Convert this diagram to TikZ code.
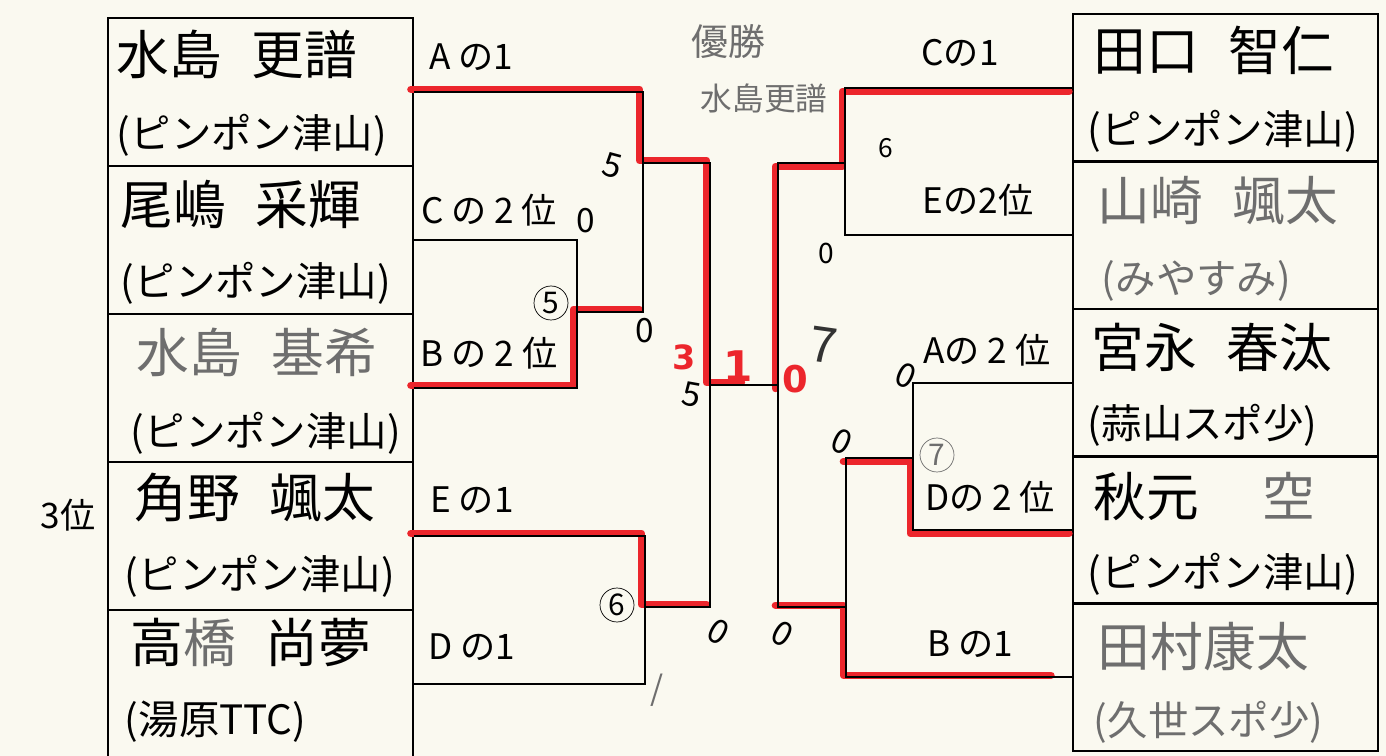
\documentclass[tikz,border=0pt]{standalone}
\usepackage{fontspec}
\setmainfont{Noto Sans CJK JP}
\newfontfamily\scorefont{DejaVu Sans}
\usepackage{xcolor}
\usepackage{tikz}
\usetikzlibrary{positioning,calc}
\definecolor{paper}{RGB}{250,249,240}
\definecolor{marker}{RGB}{236,38,44}
\definecolor{pencil}{RGB}{110,110,110}
\newcommand{\namegap}{\hspace{0.55em}}
\tikzset{
    entrant/.style={rectangle, draw, line width=1.6pt, minimum width=6.1cm, minimum height=2.96cm, inner sep=0},
    pname/.style={anchor=west, inner sep=0, font=\fontsize{30}{30}\selectfont},
    pclub/.style={anchor=west, inner sep=0, font=\fontsize{23}{23}\selectfont},
    slot/.style={inner sep=0, font=\fontsize{20}{20}\selectfont},
    bline/.style={line width=1.6pt},
    win/.style={draw=marker, line width=4.2pt, line cap=round, line join=round},
    lwin/.style={win, transform canvas={xshift=-2pt, yshift=1.5pt}},
    rwin/.style={win, transform canvas={xshift=-1.5pt, yshift=-2pt}},
    note/.style={inner sep=0, font=\fontsize{19}{19}\selectfont},
    ring/.style={circle, draw, thin, minimum size=0.68cm, inner sep=0, font=\fontsize{17}{17}\selectfont},
    redscore/.style={inner sep=0, text=marker, font=\scorefont\bfseries\fontsize{19}{19}\selectfont},
}

\begin{document}
\begin{tikzpicture}[x=0.02cm, y=-0.02cm]
    \useasboundingbox (0,0) rectangle (1386,756);
    \fill[paper] (0,0) rectangle (1386,756);

    \node[entrant] (L1) at (260.5,92) {};
    \node[entrant] (L2) at (260.5,240) {};
    \node[entrant] (L3) at (260.5,388) {};
    \node[entrant] (L4) at (260.5,536) {};
    \node[entrant] (L5) at (260.5,684) {};
    \node[entrant] (R1) at (1225.5,88) {};
    \node[entrant] (R2) at (1225.5,235) {};
    \node[entrant] (R3) at (1225.5,383) {};
    \node[entrant] (R4) at (1225.5,530) {};
    \node[entrant] (R5) at (1225.5,677) {};

    \node[pname] (L1n) at ($(L1.west)+(10,-38)$) {水島\namegap 更譜};
    \node[pclub] (L1c) at ($(L1.west)+(10,43)$) {(ピンポン津山)};
    \node[pname] (L2n) at ($(L2.west)+(14,-36)$) {尾嶋\namegap 采輝};
    \node[pclub] (L2c) at ($(L2.west)+(14,43)$) {(ピンポン津山)};
    \node[pname, text=pencil] (L3n) at ($(L3.west)+(30,-36)$) {水島\namegap 基希};
    \node[pclub] (L3c) at ($(L3.west)+(24,45)$) {(ピンポン津山)};
    \node[pname] (L4n) at ($(L4.west)+(28,-38)$) {角野\namegap 颯太};
    \node[pclub] (L4c) at ($(L4.west)+(18,40)$) {(ピンポン津山)};
    \node[pname] (L5n) at ($(L5.west)+(24,-42)$) {高\textcolor{pencil}{橋}\namegap 尚夢};
    \node[pclub] (L5c) at ($(L5.west)+(18,38)$) {(湯原TTC)};

    \node[pname] (R1n) at ($(R1.west)+(22,-38)$) {田口\namegap 智仁};
    \node[pclub] (R1c) at ($(R1.west)+(16,43)$) {(ピンポン津山)};
    \node[pname, text=pencil] (R2n) at ($(R2.west)+(26,-34)$) {山崎\namegap 颯太};
    \node[pclub, text=pencil] (R2c) at ($(R2.west)+(30,46)$) {(みやすみ)};
    \node[pname] (R3n) at ($(R3.west)+(20,-36)$) {宮永\namegap 春汰};
    \node[pclub] (R3c) at ($(R3.west)+(16,42)$) {(蒜山スポ少)};
    \node[pname] (R4n) at ($(R4.west)+(22,-34)$) {秋元\hspace{1.2em}\textcolor{pencil}{空}};
    \node[pclub] (R4c) at ($(R4.west)+(16,44)$) {(ピンポン津山)};
    \node[pname, text=pencil] (R5n) at ($(R5.west)+(26,-30)$) {田村康太};
    \node[pclub, text=pencil] (R5c) at ($(R5.west)+(22,45)$) {(久世スポ少)};

    \coordinate (lq) at (577,312);
    \coordinate (ls) at (643,163);
    \coordinate (lt) at (645,607);
    \coordinate (lf) at (710,385);
    \coordinate (rf) at (778,385);
    \coordinate (rs) at (845,163);
    \coordinate (rq) at (913,458);
    \coordinate (rt) at (846,607);

    \draw[lwin] (L1.east) -| (ls) -| (lf) -- ++(35,0);
    \draw[lwin] (L3.east) -| (lq) -- (lq -| ls);
    \draw[lwin] (L4.east) -| (lt) -- (lt -| lf);
    \draw[rwin] (R1.west) -| (rs) -| (rf);
    \draw[rwin] (R4.west) -| (rq) -- (rq -| rt);
    \draw[win, transform canvas={xshift=-1.5pt, yshift=1pt}] ($(R5.west)+(-18,0)$) -| (rt) -- (rt -| rf);

    \draw[bline] (L2.east) -| (lq) |- (L3.east);
    \draw[bline] (L1.east) -| (ls) |- (lq);
    \draw[bline] (L4.east) -| (lt) |- (L5.east);
    \draw[bline] (ls) -| (lf) |- (lt);
    \draw[bline] (lf) -- (rf);
    \draw[bline] (rs) -| (rf) |- (rt);
    \draw[bline] (R1.west) -| (rs) |- (R2.west);
    \draw[bline] (R3.west) -| (rq) |- (R4.west);
    \draw[bline] (rq) -| (rt) |- (R5.west);

    \node[slot] (a1) at (471,57) {A の1};
    \node[slot] (c2) at (489,210) {C の 2 位};
    \node[slot] (b2) at (489,353) {B の 2 位};
    \node[slot] (e1) at (472,500) {E の1};
    \node[slot] (d1) at (472,647) {D の1};
    \node[slot] (c1) at (960,53) {Cの1};
    \node[slot] (e2) at (978,200) {Eの2位};
    \node[slot] (a2) at (987,350) {Aの 2 位};
    \node[slot] (d2) at (990,497) {Dの 2 位};
    \node[slot] (bb1) at (970,644) {B の1};

    \node[note, text=pencil, font=\fontsize{21}{21}\selectfont] (champ) at (728,42) {優勝};
    \node[note, text=pencil, font=\fontsize{18}{18}\selectfont] (champn) at (764,98) {水島更譜};
    \node[note, font=\fontsize{20}{20}\selectfont] (third) at (68,515) {3位};

    \node[redscore] (s3) at (684,357) {3};
    \node[redscore, font=\scorefont\bfseries\fontsize{24}{24}\selectfont] (s1) at (738,366) {1};
    \node[redscore, font=\scorefont\bfseries\fontsize{21}{21}\selectfont] (s0) at (795,379) {0};
    \node[note, text=black!80, font=\fontsize{28}{28}\selectfont, rotate=-8] (n7) at (823,345) {7};

    \node[note, rotate=-15] (n5a) at (612,166) {5};
    \node[note] (n0a) at (586,221) {0};
    \node[ring] (c5) at (551,303) {5};
    \node[note] (n0b) at (645,331) {0};
    \node[note, rotate=-10] (n5b) at (692,395) {5};
    \node[note, rotate=-30] (n0c) at (718,632) {0};
    \node[note, rotate=-30] (n0d) at (782,634) {0};
    \node[note, text=pencil] (slash) at (657,690) {/};
    \node[ring] (c6) at (617,605) {6};
    \node[note, font=\fontsize{15}{15}\selectfont] (n6) at (886,148) {6};
    \node[note, font=\fontsize{16}{16}\selectfont] (n0e) at (826,253) {0};
    \node[note, rotate=-25] (n0f) at (906,376) {0};
    \node[note, rotate=-25] (n0g) at (842,442) {0};
    \node[ring, text=pencil, draw=pencil] (c7) at (937,455) {7};
\end{tikzpicture}
\end{document}
